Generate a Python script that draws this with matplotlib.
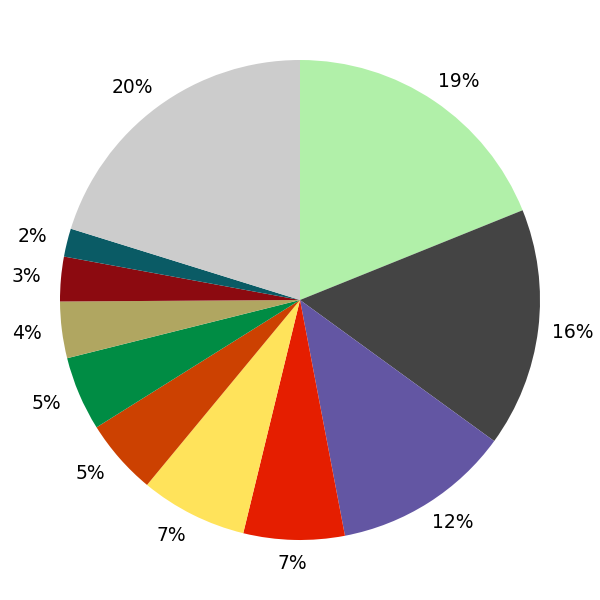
import matplotlib
matplotlib.use("Agg")
import matplotlib.pyplot as plt

# slice shares (percent)
shares = [18.9, 16.1, 12.0, 6.8, 7.2, 5.1, 5.0, 3.8, 3.0, 1.9, 20.2]
colors = ["#b1f0a9", "#444444", "#6356a3", "#e51e00", "#ffe35b", "#cc4101",
          "#008c44", "#b0a661", "#8c0a10", "#0a5b65", "#cccccc"]

fig = plt.figure(figsize=(6, 6), dpi=100)
ax = fig.add_axes([0, 0, 1, 1])
wedges, texts, autotexts = ax.pie(shares, colors=colors, startangle=90,
                                  counterclock=False, autopct="%.0f%%",
                                  pctdistance=1.1,
                                  textprops={"fontsize": 13.5})
# labels sit a little further out sideways in the reference
for t in autotexts:
    x, y = t.get_position()
    shift = 0.045 * max(-1.0, min(1.0, x / 0.3))
    t.set_position((x + shift, y))
ax.set_aspect("equal")
ax.set_xlim(-1.25, 1.25)
ax.set_ylim(-1.25, 1.25)
ax.axis("off")
fig.savefig("out.png", dpi=100)
